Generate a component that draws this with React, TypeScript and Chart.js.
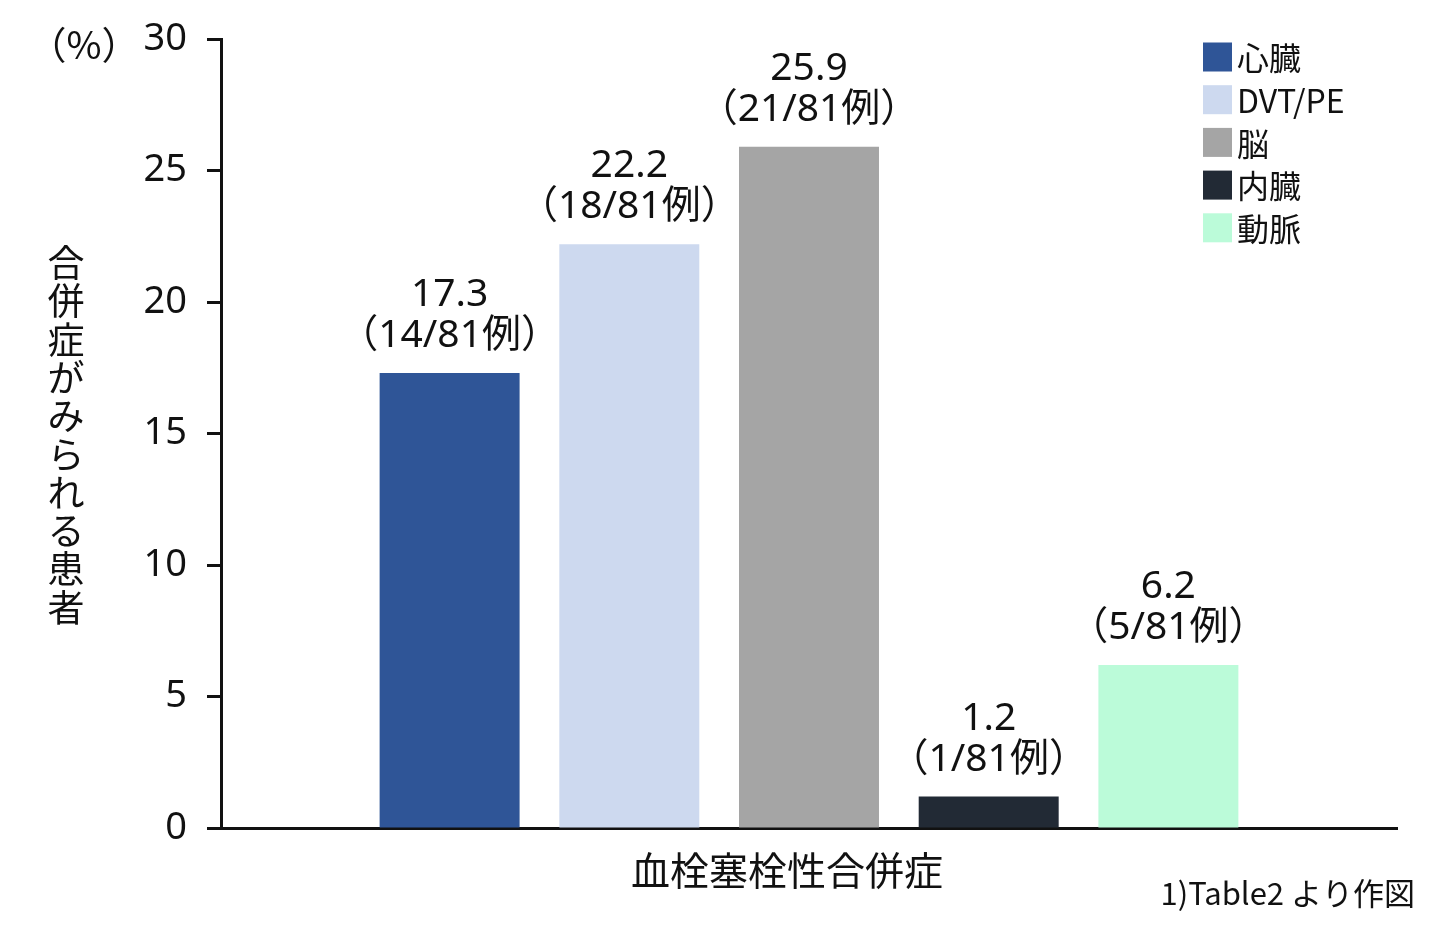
import React, { useEffect, useRef } from "react";
import { Chart, registerables } from "chart.js";

Chart.register(...registerables);

const categories = ["血栓塞栓性合併症"];
const seriesNames = ["心臓", "DVT/PE", "脳", "内臓", "動脈"];
const seriesValues = [17.3, 22.2, 25.9, 1.2, 6.2];
const caseCounts = [14, 18, 21, 1, 5];
const totalCases = 81;
const seriesColors = ["#2f5597", "#cdd9ef", "#a5a5a5", "#222a35", "#bbfbd9"];
const yAxisTitle = "合併症がみられる患者";
const yUnit = "（%）";
const footnote = "1)Table2 より作図";

const FONT = '"Noto Sans", "Noto Sans CJK JP", sans-serif';
const CJK = '"Noto Sans CJK JP", "Noto Sans", sans-serif';
const INK = "#111111";

const annotations = {
  id: "annotations",
  afterDraw(chart: any) {
    const ctx = chart.ctx;
    ctx.save();
    ctx.fillStyle = INK;
    ctx.textAlign = "center";
    ctx.textBaseline = "middle";

    // bar value labels
    chart.data.datasets.forEach((ds: any, i: number) => {
      const meta = chart.getDatasetMeta(i);
      const el = meta.data[0];
      if (!el) return;
      ctx.font = `39px ${FONT}`;
      ctx.fillText(seriesValues[i].toFixed(1), el.x, el.y - 78);
      ctx.fillText(`（${caseCounts[i]}/${totalCases}例）`, el.x, el.y - 37);
    });

    // legend
    const lx = 1203;
    const ly0 = 57;
    const step = 42.7;
    chart.data.datasets.forEach((ds: any, i: number) => {
      const cy = ly0 + i * step;
      ctx.fillStyle = ds.backgroundColor;
      ctx.fillRect(lx, cy - 14.5, 29, 29);
      ctx.fillStyle = INK;
      ctx.textAlign = "left";
      ctx.font = `32px ${CJK}`;
      ctx.fillText(ds.label, lx + 34, cy + 1);
    });

    // y axis title vertical
    ctx.textAlign = "center";
    ctx.font = `37px ${CJK}`;
    const chars = Array.from(yAxisTitle);
    chars.forEach((c, k) => {
      ctx.fillText(c, 66, 263 + k * 38.3);
    });

    // unit
    ctx.font = `38px ${CJK}`;
    ctx.fillText(yUnit, 84, 45);

    // footnote
    ctx.textAlign = "right";
    ctx.font = `31px ${CJK}`;
    ctx.fillText(footnote, 1415, 893);

    ctx.restore();
  },
};

export default function App() {
  const ref = useRef<HTMLCanvasElement>(null);
  useEffect(() => {
    if (!ref.current) return;
    const chart = new Chart(ref.current, {
      type: "bar",
      data: {
        labels: categories,
        datasets: seriesNames.map((name, i) => ({
          label: name,
          data: [seriesValues[i]],
          backgroundColor: seriesColors[i],
          borderWidth: 0,
          barPercentage: 0.779,
          categoryPercentage: 0.764,
        })),
      },
      options: {
        animation: false,
        responsive: false,
        maintainAspectRatio: false,
        layout: { padding: { left: 0, right: 43, top: 39, bottom: 0 } },
        plugins: {
          legend: { display: false },
          tooltip: { enabled: false },
          title: { display: false },
        },
        scales: {
          x: {
            grid: { display: false, drawTicks: false },
            border: { display: true, width: 3, color: INK },
            ticks: {
              color: INK,
              font: { family: CJK, size: 39 },
              padding: 19,
              labelOffset: -22,
            },
            afterFit(scale: any) {
              scale.height = 103;
              scale.paddingLeft = 0;
              scale.paddingRight = 0;
            },
          },
          y: {
            min: 0,
            max: 30,
            ticks: {
              stepSize: 5,
              color: INK,
              font: { family: FONT, size: 38 },
              padding: 20,
            },
            grid: {
              drawOnChartArea: false,
              drawTicks: true,
              tickLength: 14,
              tickWidth: 3,
              tickColor: INK,
            },
            border: { display: true, width: 3, color: INK },
            afterFit(scale: any) {
              scale.width = 221;
              scale.paddingTop = 0;
              scale.paddingBottom = 0;
            },
          },
        },
      },
      plugins: [annotations],
    });
    return () => chart.destroy();
  }, []);
  return (
    <div style={{ position: "absolute", left: 0, top: 0, width: 1440, height: 931, background: "#fff" }}>
      <canvas ref={ref} width={1440} height={931} style={{ width: 1440, height: 931 }} />
    </div>
  );
}
